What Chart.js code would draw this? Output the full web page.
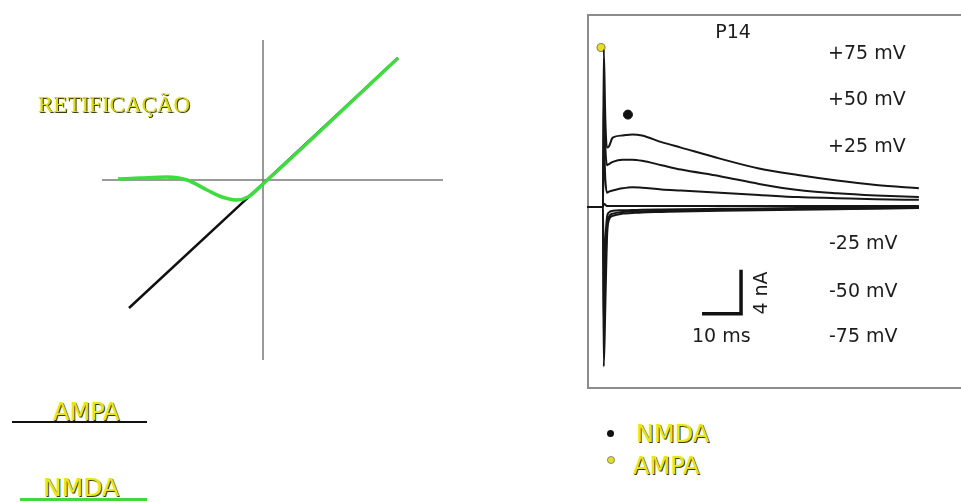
<!DOCTYPE html>
<html lang="pt">
<head>
<meta charset="UTF-8">
<title>Retificação AMPA / NMDA</title>
<script src="https://cdn.jsdelivr.net/npm/chart.js"></script>
<style>
  body { margin: 0; background: #fff; }
  #page { position: relative; width: 961px; height: 502px; overflow: hidden; background: #fff; font-family: "DejaVu Sans", sans-serif; }
  .box { position: absolute; }
  .lbl { position: absolute; font-size: 19px; line-height: 20px; color: #1c1c1c; white-space: nowrap; }
  .yel { position: absolute; color: #e6e61c; white-space: nowrap;
         text-shadow: 1px 1px 0 #3a3a10, 0 0 3px #ffff9a; }
  .hline { position: absolute; height: 0; }
</style>
</head>
<body>
<div id="page">
  <div class="box" style="left:99px; top:40px; width:344px; height:320px;"><canvas id="ivChart"></canvas></div>
  <div class="box" style="left:587px; top:14px; width:374px; height:375px;"><canvas id="traceChart"></canvas></div>

  <div class="yel" style="left:38px; top:91px; font-family:'Liberation Serif', serif; font-size:23px; line-height:28px; color:#d9d91e;">RETIFICAÇÃO</div>

  <!-- legenda esquerda -->
  <div class="yel" style="left:53px; top:398px; font-size:24px; line-height:28px;">AMPA</div>
  <div class="hline" style="left:12px; top:421px; width:135px; border-top:2px solid #111;"></div>
  <div class="yel" style="left:43px; top:474px; font-size:25px; line-height:28px;">NMDA</div>
  <div class="hline" style="left:20px; top:498px; width:127px; border-top:3px solid #3fd83f;"></div>

  <!-- rótulos do painel direito -->
  <div class="lbl" style="left:693px; top:21px; width:80px; text-align:center;">P14</div>
  <div class="lbl" style="left:828px; top:42px;">+75 mV</div>
  <div class="lbl" style="left:828px; top:88px;">+50 mV</div>
  <div class="lbl" style="left:828px; top:135px;">+25 mV</div>
  <div class="lbl" style="left:829px; top:232px;">-25 mV</div>
  <div class="lbl" style="left:829px; top:280px;">-50 mV</div>
  <div class="lbl" style="left:829px; top:325px;">-75 mV</div>
  <div class="lbl" style="left:692px; top:325px;">10 ms</div>
  <div class="lbl" style="left:735px; top:283px; width:50px; text-align:center; transform:rotate(-90deg);">4 nA</div>

  <!-- legenda direita -->
  <div class="box" style="left:607px; top:430px; width:7px; height:7px; border-radius:50%; background:#111;"></div>
  <div class="yel" style="left:636px; top:420px; font-size:24px; line-height:28px;">NMDA</div>
  <div class="box" style="left:607px; top:456px; width:6px; height:6px; border-radius:50%; background:#e6e020; border:1px solid #888;"></div>
  <div class="yel" style="left:633px; top:452px; font-size:24px; line-height:28px;">AMPA</div>
</div>

<script>
// curva I-V (unidades arbitrárias)
const ampaVoltage = [-67, 0, 67.5];
const ampaCurrent = [-64, -1.8, 61];
const nmdaVoltage = [-72.5, -61.5, -48, -38, -28, -20.5, -13, -7.5, 0, 67.5];
const nmdaCurrent = [0.5, 1, 1.5, 0, -5, -8.5, -10, -8.5, -2, 61];

// correntes sinápticas (ms, nA)
const traceTime = [-4, 0, 0.2, 0.6, 1, 1.5, 2.5, 5, 7.5, 10, 15, 20, 30, 40, 50, 60, 70, 81];
const tracePlus75 = [0, 0, 14.3, 8, 5.4, 5.5, 6.3, 6.5, 6.6, 6.5, 5.9, 5.4, 4.4, 3.5, 2.9, 2.4, 2.0, 1.7];
const tracePlus50 = [0, 0, 10, 5.5, 3.8, 3.9, 4.1, 4.3, 4.3, 4.2, 3.8, 3.4, 2.8, 2.1, 1.55, 1.25, 1.05, 0.9];
const tracePlus25 = [0, 0, 6, 2.5, 1.3, 1.4, 1.5, 1.7, 1.8, 1.75, 1.6, 1.5, 1.3, 1.1, 0.9, 0.8, 0.7, 0.65];
const traceZero = [0, 0, 0.3, 0.2, 0.1, 0.1, 0.1, 0.1, 0.1, 0.1, 0.1, 0.1, 0.1, 0.1, 0.1, 0.1, 0.1, 0.1];
const traceMinus25 = [0, 0, -6, -3, -1, -0.5, -0.35, -0.3, -0.28, -0.25, -0.22, -0.2, -0.17, -0.14, -0.1, -0.08, -0.05, -0.02];
const traceMinus50 = [0, 0, -11, -6, -2, -0.9, -0.6, -0.45, -0.4, -0.38, -0.34, -0.3, -0.25, -0.2, -0.17, -0.14, -0.1, -0.05];
const traceMinus75 = [0, 0, -14.5, -9, -3, -1.2, -0.8, -0.6, -0.55, -0.5, -0.45, -0.4, -0.35, -0.3, -0.25, -0.2, -0.15, -0.1];

// barra de escala: 10 ms x 4 nA
const scaleBarTime = [25.4, 35.4, 35.4];
const scaleBarCurrent = [-9.7, -9.7, -5.7];

// marcadores dos picos
const ampaPeak = { x: -0.5, y: 14.5 };
const nmdaPeak = { x: 6.4, y: 8.4 };

function pts(xs, ys) {
    return xs.map((x, i) => ({ x: x, y: ys[i] }));
}

// desenha os eixos cruzando em zero
const zeroAxes = {
    id: 'zeroAxes',
    beforeDatasetsDraw(chart) {
        const ctx = chart.ctx, a = chart.chartArea;
        const x0 = chart.scales.x.getPixelForValue(0);
        const y0 = chart.scales.y.getPixelForValue(0);
        ctx.save();
        ctx.strokeStyle = '#7a7a7a';
        ctx.lineWidth = 1.5;
        ctx.beginPath();
        ctx.moveTo(x0, a.top); ctx.lineTo(x0, a.bottom);
        ctx.moveTo(a.left + 3, y0); ctx.lineTo(a.right, y0);
        ctx.stroke();
        ctx.restore();
    }
};

// moldura do painel (topo, esquerda, base)
const frame = {
    id: 'frame',
    beforeDatasetsDraw(chart) {
        const ctx = chart.ctx, a = chart.chartArea;
        ctx.save();
        ctx.strokeStyle = '#8c8c8c';
        ctx.lineWidth = 2;
        ctx.beginPath();
        ctx.moveTo(a.right, a.top + 1);
        ctx.lineTo(a.left + 1, a.top + 1);
        ctx.lineTo(a.left + 1, a.bottom - 1);
        ctx.lineTo(a.right, a.bottom - 1);
        ctx.stroke();
        ctx.restore();
    }
};

const baseOpts = {
    responsive: true,
    maintainAspectRatio: false,
    animation: false,
    layout: { padding: 0, autoPadding: false },
    plugins: { legend: { display: false }, tooltip: { enabled: false } },
    elements: { point: { radius: 0 } }
};

new Chart(document.getElementById('ivChart'), {
    type: 'scatter',
    data: {
        datasets: [
            { label: 'NMDA', data: pts(nmdaVoltage, nmdaCurrent), showLine: true, borderColor: '#3fdc3f', borderWidth: 3.5, cubicInterpolationMode: 'monotone', pointRadius: 0, order: 0 },
            { label: 'AMPA', data: pts(ampaVoltage, ampaCurrent), showLine: true, borderColor: '#111', borderWidth: 2.5, tension: 0, pointRadius: 0, order: 1 }
        ]
    },
    options: Object.assign({}, baseOpts, {
        scales: {
            x: { type: 'linear', display: false, min: -82, max: 90 },
            y: { type: 'linear', display: false, min: -90, max: 70 }
        }
    }),
    plugins: [zeroAxes]
});

function trace(label, values) {
    return {
        label: label, data: pts(traceTime, values), showLine: true,
        borderColor: '#161616', borderWidth: 2, cubicInterpolationMode: 'monotone', pointRadius: 0
    };
}

new Chart(document.getElementById('traceChart'), {
    type: 'scatter',
    data: {
        datasets: [
            trace('0 mV', traceZero),
            trace('-25 mV', traceMinus25),
            trace('-50 mV', traceMinus50),
            trace('-75 mV', traceMinus75),
            trace('+25 mV', tracePlus25),
            trace('+50 mV', tracePlus50),
            trace('+75 mV', tracePlus75),
            { label: 'escala', data: pts(scaleBarTime, scaleBarCurrent), showLine: true, borderColor: '#111', borderWidth: 3.5, borderJoinStyle: 'miter', pointRadius: 0 },
            { label: 'AMPA', data: [ampaPeak], pointRadius: 4, pointBackgroundColor: '#e6e020', pointBorderColor: '#8a8a5a', pointBorderWidth: 1.2 },
            { label: 'NMDA', data: [nmdaPeak], pointRadius: 4.5, pointBackgroundColor: '#111', pointBorderColor: '#111' }
        ]
    },
    options: Object.assign({}, baseOpts, {
        scales: {
            x: { type: 'linear', display: false, min: -4.1, max: 91.8 },
            y: { type: 'linear', display: false, min: -16.545, max: 17.545 }
        }
    }),
    plugins: [frame]
});
</script>
</body>
</html>
